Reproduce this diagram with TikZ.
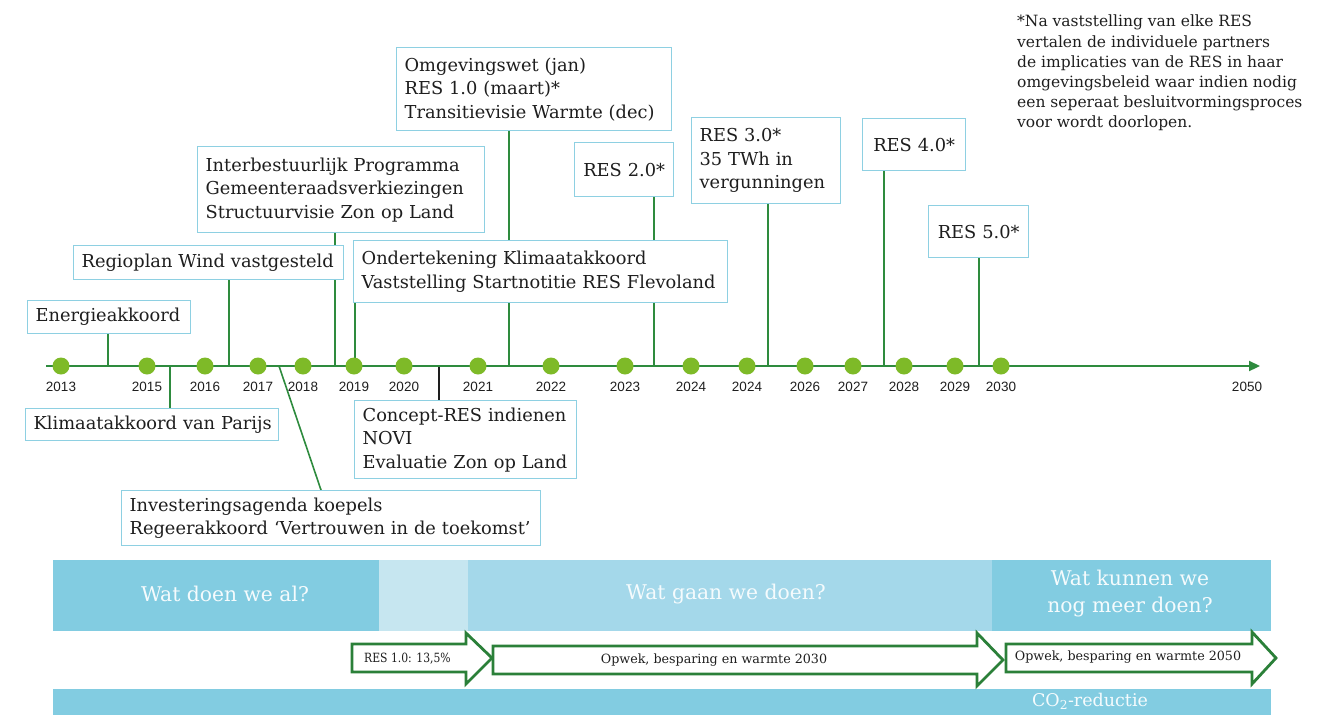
\documentclass[tikz,border=0pt]{standalone}
\usepackage{fontspec}
\usepackage{graphicx}
\setmainfont{DejaVu Serif}
\setsansfont{Liberation Sans}
\usetikzlibrary{arrows.meta}
\definecolor{bandA}{HTML}{82CCE1}
\definecolor{bandB}{HTML}{C6E6F0}
\definecolor{bandC}{HTML}{A4D8EA}
\definecolor{boxc}{HTML}{8ED0E2}
\definecolor{linec}{HTML}{2E8B3E}
\definecolor{dotc}{HTML}{7EBA28}
\definecolor{arrc}{HTML}{2B8039}
\definecolor{txt}{HTML}{1E1E1E}
\newcommand\bxfont{\fontsize{17.8}{23.5}\selectfont}
\pgfdeclarelayer{bg}
\pgfsetlayers{bg,main}
\begin{document}
\begin{tikzpicture}[x=1pt,y=-1pt,
  box/.style={draw=boxc, line width=1.3pt, fill=white, anchor=north west, align=left,
    inner xsep=8pt, inner ysep=0pt, font=\bxfont, text=txt},
  cbox/.style={box, align=center},
  conn/.style={draw=linec, line width=1.6pt},
  axisline/.style={draw=linec, line width=2.2pt},
  dot/.style={circle, fill=dotc, minimum size=17pt, inner sep=0pt},
  yl/.style={font=\sffamily\fontsize{13.5}{15}\selectfont, text=txt},
  bandtext/.style={font=\fontsize{20.3}{27}\selectfont, text=white!92!bandA, align=center},
  blockarrow/.style={draw=arrc, line width=2.8pt, fill=white, line join=miter},
  arrtext/.style={font=\fontsize{12.7}{14}\selectfont, text=txt}
]
\useasboundingbox (0,0) rectangle (1326,715);

% axis coordinates
\coordinate (axs) at (46,366);
\coordinate (axe) at (1260,366);
\coordinate (aener) at (108,366);
\coordinate (apar) at (170,366);
\coordinate (areg) at (229,366);
\coordinate (ainv) at (279,366);
\coordinate (aint) at (335,366);
\coordinate (aond) at (355,366);
\coordinate (acon) at (439,366);
\coordinate (aomg) at (509,366);
\coordinate (ares2) at (654,366);
\coordinate (ares3) at (768,366);
\coordinate (ares4) at (884,366);
\coordinate (ares5) at (979,366);

% boxes
\node[box, text width=147pt, minimum height=33pt] (ener) at (27,300) {\mbox{Energieakkoord}};
\node[box, text width=237pt, minimum height=32pt] (par) at (25,408) {\mbox{Klimaatakkoord van Parijs}};
\node[box, text width=254pt, minimum height=34pt] (reg) at (73,245) {\mbox{Regioplan Wind vastgesteld}};
\node[box, text width=271pt, minimum height=86pt] (int) at (197,146) {Interbestuurlijk Programma\\Gemeenteraadsverkiezingen\\Structuurvisie Zon op Land};
\node[box, text width=259pt, minimum height=83pt] (omg) at (396,47) {Omgevingswet (jan)\\RES 1.0 (maart)*\\Transitievisie Warmte (dec)};
\node[cbox, text width=83pt, minimum height=54pt] (res2) at (574,142) {RES 2.0*};
\node[box, text width=358pt, minimum height=62pt] (ond) at (353,240) {\mbox{Ondertekening Klimaatakkoord}\\\mbox{Vaststelling Startnotitie RES Flevoland}};
\node[box, text width=133pt, minimum height=86pt] (res3) at (691,117) {RES 3.0*\\35 TWh in\\vergunningen};
\node[cbox, text width=87pt, minimum height=52pt] (res4) at (862,118) {RES 4.0*};
\node[cbox, text width=84pt, minimum height=52pt] (res5) at (928,205) {RES 5.0*};
\node[box, text width=206pt, minimum height=78pt] (con) at (354,400) {\mbox{Concept-RES indienen}\\NOVI\\\mbox{Evaluatie Zon op Land}};
\node[box, text width=403pt, minimum height=55pt] (inv) at (121,490) {\mbox{Investeringsagenda koepels}\\\mbox{Regeerakkoord ‘Vertrouwen in de toekomst’}};
\coordinate (invtop) at ([xshift=200pt]inv.north west);

% connectors (behind boxes)
\begin{pgfonlayer}{bg}
\draw[conn] (ener.south -| aener) -- (aener);
\draw[conn] (apar) -- (par.north -| apar);
\draw[conn] (reg.south -| areg) -- (areg);
\draw[conn] (int.south -| aint) -- (aint);
\draw[conn] (ond.south -| aond) -- (aond);
\draw[conn] (ainv) -- (invtop);
\draw[draw=txt, line width=1.3pt] (acon) -- (con.north -| acon);
\draw[conn] (omg.south -| aomg) -- (aomg);
\draw[conn] (res2.south -| ares2) -- (ares2);
\draw[conn] (res3.south -| ares3) -- (ares3);
\draw[conn] (res4.south -| ares4) -- (ares4);
\draw[conn] (res5.south -| ares5) -- (ares5);
\end{pgfonlayer}

% axis
\draw[axisline, -{Triangle[length=11pt,width=10pt]}] (axs) -- (axe);

% dots and years
\foreach \x/\y/\n in {61/2013/a, 147/2015/b, 205/2016/c, 258/2017/d, 303/2018/e, 354/2019/f, 404/2020/g, 478/2021/h, 551/2022/i, 625/2023/j, 691/2024/k, 747/2024/l, 805/2026/m, 853/2027/n, 904/2028/o, 955/2029/p, 1001/2030/q} {
  \node[dot] (dot\n) at (\x,366) {};
  \node[yl] (yr\n) at (\x,387) {\y};
}
\node[yl] (yr2050) at (1247,387) {2050};

% note
\node[anchor=north west, align=left, font=\fontsize{15.5}{20.2}\selectfont, text=txt, inner sep=0pt] (note) at (1017,15)
{*Na vaststelling van elke RES\\vertalen de individuele partners\\de implicaties van de RES in haar\\omgevingsbeleid waar indien nodig\\een seperaat besluitvormingsproces\\voor wordt doorlopen.};

% bands
\fill[bandA] (53,560) rectangle (379,631);
\fill[bandB] (379,560) rectangle (468,631);
\fill[bandC] (468,560) rectangle (992,631);
\fill[bandA] (992,560) rectangle (1271,631);
\node[bandtext] (b1) at (225,594) {Wat doen we al?};
\node[bandtext] (b3) at (726,594) {Wat gaan we doen?};
\node[bandtext] (b4) at (1130,594) {Wat kunnen we\\nog meer doen?};

\fill[bandA] (53,689) rectangle (1271,715);
\node[bandtext, font=\fontsize{17.5}{20}\selectfont] (co2) at (1090,701) {CO\textsubscript{2}-reductie};

% block arrows
\draw[blockarrow] (352,644) -- (466,644) -- (466,633) -- (492,658) -- (466,684) -- (466,672) -- (352,672) -- cycle;
\draw[blockarrow] (493,646) -- (977,646) -- (977,633) -- (1003,660) -- (977,686) -- (977,674) -- (493,674) -- cycle;
\draw[blockarrow] (1006,644) -- (1252,644) -- (1252,632) -- (1276,658) -- (1252,684) -- (1252,672) -- (1006,672) -- cycle;
\node[arrtext, anchor=west, inner sep=0pt] (t1) at (364,659) {\scalebox{0.85}[1]{RES 1.0: 13,5\%}};
\node[arrtext] (t2) at (714,660) {Opwek, besparing en warmte 2030};
\node[arrtext] (t3) at (1128,657) {Opwek, besparing en warmte 2050};
\end{tikzpicture}
\end{document}
